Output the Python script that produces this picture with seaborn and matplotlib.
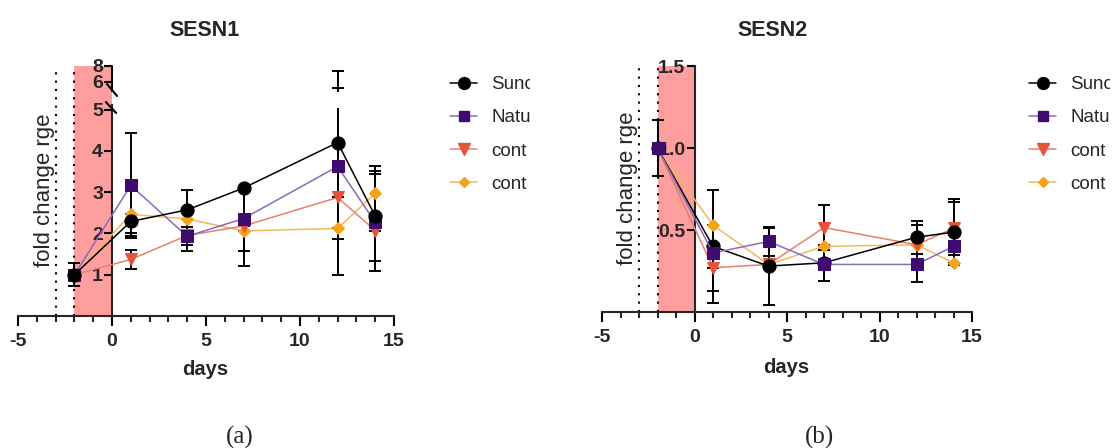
import numpy as np
import pandas as pd
import matplotlib
matplotlib.use('Agg')
from matplotlib import pyplot as plt
from matplotlib import transforms
from matplotlib.lines import Line2D
from matplotlib.patches import Rectangle
from matplotlib.ticker import MultipleLocator
import seaborn as sns

# ---- data ----
days = [-2, 1, 4, 7, 12, 14]
labels = ['Sunc', 'Natu', 'cont', 'cont']

sesn1_sunc = [1.0, 2.29, 2.57, 3.10, 4.20, 2.42]
sesn1_natu = [1.0, 3.16, 1.93, 2.36, 3.62, 2.27]
sesn1_cnt1 = [1.0, 1.37, 1.95, 2.18, 2.87, 2.07]
sesn1_cnt2 = [1.0, 2.46, 2.35, 2.06, 2.12, 2.97]
# lower / upper error lengths
sesn1_sunc_lo = [0.28, 0.35, 0.85, 1.90, 3.20, 1.10]
sesn1_sunc_hi = [0.28, 0.00, 0.48, 0.00, 3.20, 1.10]
sesn1_natu_lo = [0.0, 1.28, 0.35, 0.79, 1.76, 1.17]
sesn1_natu_hi = [0.0, 1.28, 0.00, 0.00, 1.63, 1.17]
sesn1_cnt1_lo = [0.0, 0.24, 0.0, 0.0, 0.0, 0.0]
sesn1_cnt1_hi = [0.0, 0.24, 0.0, 0.0, 0.0, 0.0]
sesn1_cnt2_lo = [0.0, 0.45, 0.20, 0.0, 0.0, 0.65]
sesn1_cnt2_hi = [0.0, 0.00, 0.00, 0.0, 0.0, 0.65]

sesn2_sunc = [1.0, 0.40, 0.28, 0.30, 0.456, 0.487]
sesn2_natu = [1.0, 0.36, 0.43, 0.29, 0.29, 0.40]
sesn2_cnt1 = [1.0, 0.27, 0.29, 0.515, 0.41, 0.51]
sesn2_cnt2 = [1.0, 0.53, 0.29, 0.40, 0.41, 0.30]
sesn2_sunc_lo = [0.17, 0.345, 0.235, 0.11, 0.10, 0.20]
sesn2_sunc_hi = [0.17, 0.345, 0.235, 0.11, 0.10, 0.20]
sesn2_natu_lo = [0.0, 0.23, 0.09, 0.0, 0.11, 0.0]
sesn2_natu_hi = [0.0, 0.00, 0.09, 0.0, 0.00, 0.0]
sesn2_cnt1_lo = [0.0, 0.0, 0.0, 0.135, 0.12, 0.16]
sesn2_cnt1_hi = [0.0, 0.0, 0.0, 0.135, 0.12, 0.16]
sesn2_cnt2_lo = [0.0, 0.0, 0.0, 0.0, 0.0, 0.0]
sesn2_cnt2_hi = [0.0, 0.0, 0.0, 0.0, 0.0, 0.0]

# style per series: line colour, marker colour, marker, size
styles = [
    ('#000000', '#000000', 'o', 9.5),
    ('#8a6bb8', '#3d0c6e', 's', 8.5),
    ('#e8806b', '#e5533c', 'v', 9),
    ('#f3b85a', '#f5a31c', 'D', 6),
]

sns.set_style('ticks')
plt.rcParams['font.family'] = ['Liberation Sans', 'DejaVu Sans']
plt.rcParams['axes.linewidth'] = 1.5
plt.rcParams['axes.unicode_minus'] = False

fig = plt.figure(figsize=(11.13, 4.48), dpi=100)
W, H = 1113, 448

# broken y scale for the SESN1 panel
B = 5.1
U6 = 5.666
K = 0.1937


def fwd(v):
    v = np.asarray(v, dtype=float)
    return np.where(v <= B, v, U6 + (v - 6) * K)


def inv(u):
    u = np.asarray(u, dtype=float)
    uB = U6 + (B - 6) * K
    return np.where(u <= B, u, np.where(u >= uB, 6 + (u - U6) / K, B))


def draw_panel(ax, means, los, his, order):
    bt = transforms.blended_transform_factory(ax.transData, ax.transAxes)
    ax.add_patch(Rectangle((-2, 0), 2, 1, transform=bt, facecolor='#ff9e9e',
                           edgecolor='none', zorder=0.5))
    for xv in (-3, -2):
        ax.plot([xv, xv], [0, 1], transform=bt, color='k', ls=(0, (1, 3)),
                lw=1.5, zorder=1)
    for i in order:
        lc, mc, mk, ms = styles[i]
        ax.errorbar(days, means[i], yerr=[los[i], his[i]], fmt='none',
                    ecolor='k', elinewidth=1.4, capsize=4.5, capthick=1.4,
                    zorder=2)
        sns.lineplot(x=days, y=means[i], ax=ax, color=lc, lw=1.1,
                     marker=mk, markersize=ms, markerfacecolor=mc,
                     markeredgecolor=mc, zorder=3, legend=False,
                     errorbar=None)
    ax.set_xlim(-5, 15)
    ax.xaxis.set_major_locator(MultipleLocator(5))
    ax.xaxis.set_minor_locator(MultipleLocator(1))
    ax.spines['left'].set_position(('data', 0))
    ax.spines['top'].set_visible(False)
    ax.spines['right'].set_visible(False)
    ax.tick_params(axis='y', which='major', direction='out', length=6,
                   width=1.5, labelsize=14, pad=0.5, color='k')
    ax.tick_params(axis='x', which='major', direction='out', length=7,
                   width=1.5, labelsize=14, pad=5, color='k')
    ax.tick_params(axis='x', which='minor', direction='out', length=4.5,
                   width=1.5)
    for t in ax.get_xticklabels() + ax.get_yticklabels():
        t.set_fontweight('bold')
    ax.set_xlabel('days', fontsize=14.5, fontweight='bold')
    ax.set_ylabel('fold change rge', fontsize=16)


def add_legend(ax, x0, y0, clip_x):
    handles = [Line2D([], [], color=lc, lw=1.1, marker=mk, markersize=ms * 0.9,
                      markerfacecolor=mc, markeredgecolor=mc)
               for lc, mc, mk, ms in styles]
    leg = ax.legend(handles, labels, loc='upper left',
                    bbox_to_anchor=(x0 / W, 1 - y0 / H),
                    bbox_transform=fig.transFigure, frameon=False,
                    fontsize=13.5, borderpad=0, borderaxespad=0,
                    handlelength=1.45, handletextpad=0.75, labelspacing=0.86)
    clip = transforms.TransformedBbox(
        transforms.Bbox([[0, 0], [clip_x / W, 1]]), fig.transFigure)
    for t in leg.get_texts():
        t.set_clip_box(clip)
        t.set_clip_on(True)


# ---- SESN1 ----
ax1 = fig.add_axes([18 / W, 1 - 316 / H, 376 / W, 250 / H])
ax1.set_yscale('function', functions=(fwd, inv))
draw_panel(ax1,
           [sesn1_sunc, sesn1_natu, sesn1_cnt1, sesn1_cnt2],
           [sesn1_sunc_lo, sesn1_natu_lo, sesn1_cnt1_lo, sesn1_cnt2_lo],
           [sesn1_sunc_hi, sesn1_natu_hi, sesn1_cnt1_hi, sesn1_cnt2_hi],
           order=[3, 2, 1, 0])
ax1.set_ylim(0, 8)
ax1.set_yticks([1, 2, 3, 4, 5, 6, 8])
ax1.set_yticklabels(['1', '2', '3', '4', '5', '6', '8'], fontweight='bold')
ax1.minorticks_off()
ax1.xaxis.set_minor_locator(MultipleLocator(1))
ax1.spines['left'].set_bounds(0, B)
bt = transforms.blended_transform_factory(ax1.transData, ax1.transAxes)
# hide the error bars inside the axis break
ax1.add_patch(Rectangle((0.4, 0.83), 15, 0.065, transform=bt,
                        facecolor='white', edgecolor='none', zorder=2.8))
ax1.plot([0, 0], [0.90, 1.0], transform=bt, color='k', lw=1.5,
         clip_on=False, zorder=5)
ax1.plot([-0.27, 0.27], [0.928, 0.88], transform=bt, color='k', lw=1.5,
         clip_on=False, zorder=5)
ax1.plot([-0.33, 0.22], [0.856, 0.812], transform=bt, color='k', lw=1.5,
         clip_on=False, zorder=5)
ax1.yaxis.set_label_coords((55 - 18) / 376, 0.504)
ax1.xaxis.set_label_coords(0.497, -0.174)
ax1.text(0.497, 1.144, 'SESN1', transform=ax1.transAxes, ha='center',
         va='center', fontsize=15.5, fontweight='bold')
add_legend(ax1, 450, 76, 530)

# ---- SESN2 ----
ax2 = fig.add_axes([602 / W, 1 - 312 / H, 370 / W, 246 / H])
draw_panel(ax2,
           [sesn2_sunc, sesn2_natu, sesn2_cnt1, sesn2_cnt2],
           [sesn2_sunc_lo, sesn2_natu_lo, sesn2_cnt1_lo, sesn2_cnt2_lo],
           [sesn2_sunc_hi, sesn2_natu_hi, sesn2_cnt1_hi, sesn2_cnt2_hi],
           order=[3, 2, 0, 1])
ax2.set_ylim(0, 1.5)
ax2.set_yticks([0.5, 1.0, 1.5])
ax2.set_yticklabels(['0.5', '1.0', '1.5'], fontweight='bold')
ax2.yaxis.set_label_coords((638 - 602) / 370, 0.504)
ax2.xaxis.set_label_coords(0.497, -0.187)
ax2.text(0.462, 1.146, 'SESN2', transform=ax2.transAxes, ha='center',
         va='center', fontsize=15.5, fontweight='bold')
add_legend(ax2, 1029, 76, 1110)

fig.text(240 / W, 1 - 437 / H, '(a)', ha='center', va='center', fontsize=18,
         family='Liberation Serif')
fig.text(820 / W, 1 - 437 / H, '(b)', ha='center', va='center', fontsize=18,
         family='Liberation Serif')

fig.savefig('out.png', dpi=100)
